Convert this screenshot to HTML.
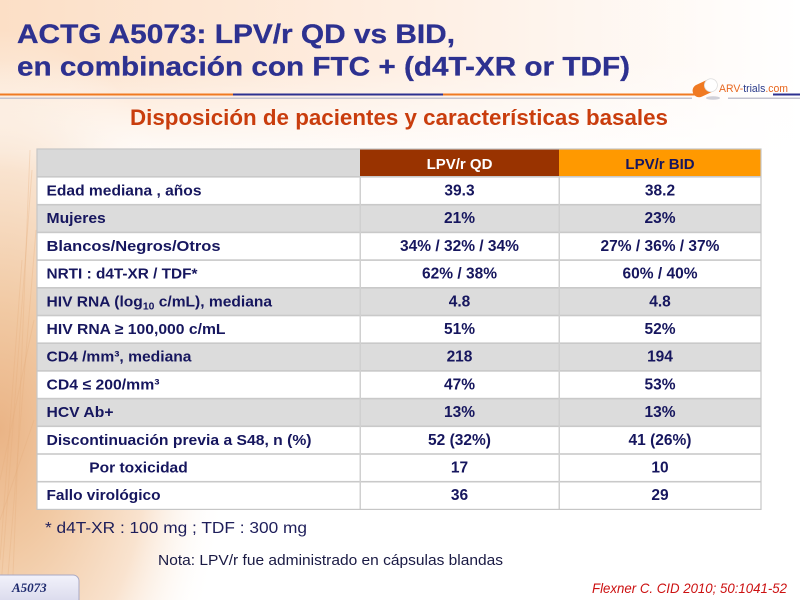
<!DOCTYPE html>
<html>
<head>
<meta charset="utf-8">
<style>
  html, body { margin:0; padding:0; width:800px; height:600px; overflow:hidden; background:#fff; }
  svg { display:block; }
  .lbl { font-family:"Liberation Sans", Arial, sans-serif; font-weight:bold; font-size:15px; fill:#16165e; }
  .val { font-family:"Liberation Sans", Arial, sans-serif; font-weight:bold; font-size:15.5px; fill:#16165e; text-anchor:middle; }
</style>
</head>
<body>
<svg width="800" height="600" viewBox="0 0 800 600" xmlns="http://www.w3.org/2000/svg">
  <defs>
    <radialGradient id="leftglow" cx="0" cy="430" r="1" gradientUnits="userSpaceOnUse" gradientTransform="translate(0 430) scale(230 400) translate(0 -430)">
      <stop offset="0" stop-color="#eab486"/>
      <stop offset="0.3" stop-color="#f1c9a3"/>
      <stop offset="0.65" stop-color="#f9e3cf"/>
      <stop offset="1" stop-color="#ffffff" stop-opacity="0"/>
    </radialGradient>
    <linearGradient id="topglow" x1="0" y1="0" x2="1" y2="0">
      <stop offset="0" stop-color="#fcdfc6"/>
      <stop offset="0.5" stop-color="#feeee2"/>
      <stop offset="1" stop-color="#ffffff"/>
    </linearGradient>
    <linearGradient id="topfade" x1="0" y1="0" x2="0" y2="1">
      <stop offset="0" stop-color="#fff" stop-opacity="0"/>
      <stop offset="1" stop-color="#fff" stop-opacity="1"/>
    </linearGradient>
    <linearGradient id="tab" x1="0" y1="0" x2="0" y2="1">
      <stop offset="0" stop-color="#f2f2fb"/>
      <stop offset="1" stop-color="#d6d6ea"/>
    </linearGradient>
  </defs>

  <!-- background -->
  <rect x="0" y="0" width="800" height="600" fill="#ffffff"/>
  <rect x="0" y="0" width="800" height="150" fill="url(#topglow)"/>
  <rect x="0" y="60" width="800" height="110" fill="url(#topfade)"/>
  <rect x="0" y="0" width="800" height="600" fill="url(#leftglow)"/>
  <!-- faint streaks -->
  <g stroke="#e4ac7c" stroke-opacity="0.3" stroke-width="1" fill="none">
    <path d="M0 600 L32 170"/><path d="M6 600 L36 230"/><path d="M12 600 L30 150"/>
    <path d="M0 560 L22 260"/><path d="M0 480 L34 320"/><path d="M0 520 L34 420"/>
  </g>

  <!-- title -->
  <text x="17" y="43" font-family="Liberation Sans, Arial, sans-serif" font-weight="bold" font-size="27" fill="#2d3190" stroke="#2d3190" stroke-width="0.3" textLength="438" lengthAdjust="spacingAndGlyphs">ACTG A5073: LPV/r QD vs BID,</text>
  <text x="17" y="75.5" font-family="Liberation Sans, Arial, sans-serif" font-weight="bold" font-size="27" fill="#2d3190" stroke="#2d3190" stroke-width="0.3" textLength="613" lengthAdjust="spacingAndGlyphs">en combinación con FTC + (d4T-XR or TDF)</text>

  <!-- header lines -->
  <rect x="0" y="93.5" width="233" height="2" fill="#f07a22"/>
  <rect x="233" y="93.5" width="210" height="2" fill="#2d3190"/>
  <rect x="443" y="93.5" width="252" height="2" fill="#f07a22"/>
  <rect x="773" y="93.5" width="27" height="2" fill="#2d3190"/>
  <rect x="0" y="97.5" width="692" height="1.5" fill="#c3c3cf"/>
  <rect x="728" y="97.5" width="72" height="1.5" fill="#c3c3cf"/>

  <!-- logo -->
  <g transform="translate(705 88) rotate(-25)">
    <rect x="-13" y="-6.5" width="26" height="13" rx="6.5" fill="#f07a22"/>
    <rect x="0" y="-6.5" width="13" height="13" rx="6.5" fill="#ffffff" stroke="#dddddd" stroke-width="0.8"/>
  </g>
  <ellipse cx="713" cy="98" rx="7" ry="1.8" fill="#d0d0d8"/>
  <text x="719" y="92" font-family="Liberation Sans, Arial, sans-serif" font-size="11" textLength="69" lengthAdjust="spacingAndGlyphs"><tspan fill="#e8661e">ARV-</tspan><tspan fill="#2a3a8a">trials</tspan><tspan fill="#e8661e">.com</tspan></text>

  <!-- subtitle -->
  <text x="130" y="125" font-family="Liberation Sans, Arial, sans-serif" font-weight="bold" font-size="22" fill="#c93d0d" textLength="538" lengthAdjust="spacingAndGlyphs">Disposición de pacientes y características basales</text>

  <!-- table -->
  <rect x="37" y="149" width="724" height="360.4" fill="#ffffff"/>
  <!-- header -->
  <rect x="37" y="149" width="323" height="28" fill="#d9d9d9"/>
  <rect x="360" y="149" width="199" height="28" fill="#993300"/>
  <rect x="559" y="149" width="202" height="28" fill="#ff9900"/>
  <text x="459.5" y="169" font-family="Liberation Sans, Arial, sans-serif" font-weight="bold" font-size="15" fill="#ffffff" text-anchor="middle">LPV/r QD</text>
  <text x="660" y="169" font-family="Liberation Sans, Arial, sans-serif" font-weight="bold" font-size="15" fill="#16165e" text-anchor="middle">LPV/r BID</text>

  <!-- gray rows -->
  <g fill="#dcdcdc">
    <rect x="37" y="204.7" width="724" height="27.7"/>
    <rect x="37" y="287.8" width="724" height="27.7"/>
    <rect x="37" y="343.2" width="724" height="27.7"/>
    <rect x="37" y="398.6" width="724" height="27.7"/>
  </g>

  <!-- grid lines -->
  <g fill="#c9c9c9">
    <rect x="37" y="176" width="724" height="1.6"/>
    <rect x="37" y="203.9" width="724" height="1.6"/>
    <rect x="37" y="231.6" width="724" height="1.6"/>
    <rect x="37" y="259.3" width="724" height="1.6"/>
    <rect x="37" y="287.0" width="724" height="1.6"/>
    <rect x="37" y="314.7" width="724" height="1.6"/>
    <rect x="37" y="342.4" width="724" height="1.6"/>
    <rect x="37" y="370.1" width="724" height="1.6"/>
    <rect x="37" y="397.8" width="724" height="1.6"/>
    <rect x="37" y="425.5" width="724" height="1.6"/>
    <rect x="37" y="453.2" width="724" height="1.6"/>
    <rect x="37" y="480.9" width="724" height="1.6"/>
  </g>
  <g fill="#d0d0d0">
    <rect x="359.5" y="177" width="1.5" height="332.4"/>
    <rect x="558.5" y="177" width="1.5" height="332.4"/>
  </g>
  <rect x="37" y="149" width="724" height="360.4" fill="none" stroke="#c6c6c6" stroke-width="1.2"/>

  <!-- labels -->
  <text class="lbl" x="46.5" y="195.5" textLength="155" lengthAdjust="spacingAndGlyphs">Edad mediana , años</text>
  <text class="lbl" x="46.5" y="223.2" textLength="59.3" lengthAdjust="spacingAndGlyphs">Mujeres</text>
  <text class="lbl" x="46.5" y="250.9" textLength="174" lengthAdjust="spacingAndGlyphs">Blancos/Negros/Otros</text>
  <text class="lbl" x="46.5" y="278.6" textLength="151" lengthAdjust="spacingAndGlyphs">NRTI : d4T-XR / TDF*</text>
  <text class="lbl" x="46.5" y="306.3" textLength="225.6" lengthAdjust="spacingAndGlyphs">HIV RNA (log<tspan font-size="10" dy="3">10</tspan><tspan dy="-3"> c/mL), mediana</tspan></text>
  <text class="lbl" x="46.5" y="334.0" textLength="179" lengthAdjust="spacingAndGlyphs">HIV RNA ≥ 100,000 c/mL</text>
  <text class="lbl" x="46.5" y="361.7" textLength="145" lengthAdjust="spacingAndGlyphs">CD4 /mm³, mediana</text>
  <text class="lbl" x="46.5" y="389.4" textLength="113" lengthAdjust="spacingAndGlyphs">CD4 ≤ 200/mm³</text>
  <text class="lbl" x="46.5" y="417.1" textLength="67" lengthAdjust="spacingAndGlyphs">HCV Ab+</text>
  <text class="lbl" x="46.5" y="444.8" textLength="265" lengthAdjust="spacingAndGlyphs">Discontinuación previa a  S48, n (%)</text>
  <text class="lbl" x="89.3" y="472.5" textLength="98.4" lengthAdjust="spacingAndGlyphs">Por toxicidad</text>
  <text class="lbl" x="46.5" y="500.2" textLength="114" lengthAdjust="spacingAndGlyphs">Fallo virológico</text>

  <!-- values QD -->
  <text class="val" x="459.5" y="195.5">39.3</text>
  <text class="val" x="459.5" y="223.2">21%</text>
  <text class="val" x="459.5" y="250.9">34% / 32% / 34%</text>
  <text class="val" x="459.5" y="278.6">62% / 38%</text>
  <text class="val" x="459.5" y="306.3">4.8</text>
  <text class="val" x="459.5" y="334.0">51%</text>
  <text class="val" x="459.5" y="361.7">218</text>
  <text class="val" x="459.5" y="389.4">47%</text>
  <text class="val" x="459.5" y="417.1">13%</text>
  <text class="val" x="459.5" y="444.8">52 (32%)</text>
  <text class="val" x="459.5" y="472.5">17</text>
  <text class="val" x="459.5" y="500.2">36</text>

  <!-- values BID -->
  <text class="val" x="660" y="195.5">38.2</text>
  <text class="val" x="660" y="223.2">23%</text>
  <text class="val" x="660" y="250.9">27% / 36% / 37%</text>
  <text class="val" x="660" y="278.6">60% / 40%</text>
  <text class="val" x="660" y="306.3">4.8</text>
  <text class="val" x="660" y="334.0">52%</text>
  <text class="val" x="660" y="361.7">194</text>
  <text class="val" x="660" y="389.4">53%</text>
  <text class="val" x="660" y="417.1">13%</text>
  <text class="val" x="660" y="444.8">41 (26%)</text>
  <text class="val" x="660" y="472.5">10</text>
  <text class="val" x="660" y="500.2">29</text>

  <!-- footnotes -->
  <text x="45" y="533" font-family="Liberation Sans, Arial, sans-serif" font-size="16" fill="#1e1e5a" textLength="262" lengthAdjust="spacingAndGlyphs">* d4T-XR : 100 mg ; TDF : 300 mg</text>
  <text x="158" y="565" font-family="Liberation Sans, Arial, sans-serif" font-size="14.5" fill="#1a1a44" textLength="345" lengthAdjust="spacingAndGlyphs">Nota: LPV/r fue administrado en cápsulas blandas</text>

  <!-- bottom tab -->
  <rect x="-8" y="575" width="87" height="32" rx="6" fill="url(#tab)" stroke="#a9a9c4" stroke-width="1"/>
  <text x="12" y="592" font-family="Liberation Serif, serif" font-style="italic" font-weight="bold" font-size="13" fill="#1e2a6e">A5073</text>

  <!-- reference -->
  <text x="592" y="593" font-family="Liberation Sans, Arial, sans-serif" font-style="italic" font-size="14" fill="#cc1111" textLength="195" lengthAdjust="spacingAndGlyphs">Flexner C. CID 2010; 50:1041-52</text>
</svg>
</body>
</html>
